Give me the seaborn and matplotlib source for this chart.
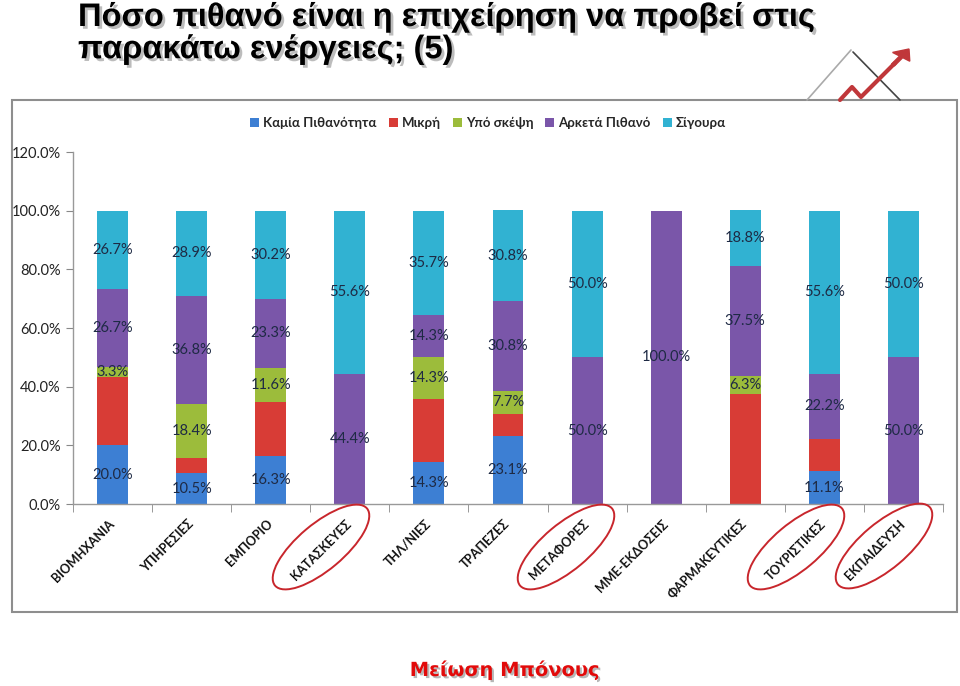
import matplotlib
matplotlib.use("Agg")
import matplotlib.pyplot as plt
import matplotlib.patheffects as pe
from matplotlib.patches import Rectangle, Ellipse, Patch, FancyArrow
from matplotlib.transforms import IdentityTransform
from matplotlib.lines import Line2D
import seaborn as sns
import numpy as np

categories = ["ΒΙΟΜΗΧΑΝΙΑ", "ΥΠΗΡΕΣΙΕΣ", "ΕΜΠΟΡΙΟ", "ΚΑΤΑΣΚΕΥΕΣ", "ΤΗΛ/ΝΙΕΣ",
              "ΤΡΑΠΕΖΕΣ", "ΜΕΤΑΦΟΡΕΣ", "ΜΜΕ-ΕΚΔΟΣΕΙΣ", "ΦΑΡΜΑΚΕΥΤΙΚΕΣ",
              "ΤΟΥΡΙΣΤΙΚΕΣ", "ΕΚΠΑΙΔΕΥΣΗ"]
series_names = ["Καμία Πιθανότητα", "Μικρή", "Υπό σκέψη", "Αρκετά Πιθανό", "Σίγουρα"]
kamia = [20.0, 10.5, 16.3, 0.0, 14.3, 23.1, 0.0, 0.0, 0.0, 11.1, 0.0]
mikri = [23.3, 5.3, 18.6, 0.0, 21.4, 7.7, 0.0, 0.0, 37.5, 11.1, 0.0]
ypo_skepsi = [3.3, 18.4, 11.6, 0.0, 14.3, 7.7, 0.0, 0.0, 6.3, 0.0, 0.0]
arketa = [26.7, 36.8, 23.3, 44.4, 14.3, 30.8, 50.0, 100.0, 37.5, 22.2, 50.0]
sigoura = [26.7, 28.9, 30.2, 55.6, 35.7, 30.8, 50.0, 0.0, 18.8, 55.6, 50.0]
show_labels = [True, False, True, True, True]
highlighted = ["ΚΑΤΑΣΚΕΥΕΣ", "ΜΕΤΑΦΟΡΕΣ", "ΤΟΥΡΙΣΤΙΚΕΣ", "ΕΚΠΑΙΔΕΥΣΗ"]
yticks = [0, 20, 40, 60, 80, 100, 120]

colors = ["#3D7FD3", "#D83C36", "#9CBC3B", "#7A56A9", "#31B2D2"]

sns.set_style("white")
plt.rcParams["font.family"] = ["Lato", "DejaVu Sans"]

W, H = 960, 686
fig = plt.figure(figsize=(W / 100, H / 100), dpi=100)
ax = fig.add_axes([73 / W, 1 - 504 / H, (943 - 73) / W, (504 - 152) / H])

series = [kamia, mikri, ypo_skepsi, arketa, sigoura]
cum = np.cumsum(np.array(series), axis=0)

# draw from top layer down so lower layers overlay
for i in range(len(series) - 1, -1, -1):
    sns.barplot(x=categories, y=cum[i], color=colors[i], width=0.39,
                saturation=1, errorbar=None, ax=ax, linewidth=0)

# data labels
for i, vals in enumerate(series):
    if not show_labels[i]:
        continue
    for j, v in enumerate(vals):
        if v <= 0:
            continue
        yc = cum[i][j] - v / 2
        ax.text(j, yc, f"{v:.1f}%", ha="center", va="center",
                fontsize=10.5, color="#1E2A44")

ax.set_xlim(-0.5, len(categories) - 0.5)
ax.set_ylim(0, 120)
ax.set_yticks(yticks)
ax.set_yticklabels([f"{t:.1f}%" for t in yticks], fontsize=10.5, color="#222222")
ax.tick_params(axis="y", length=5, color="#888888", direction="out", left=True, pad=4)
ax.tick_params(axis="x", which="major", length=0, pad=13)
ax.set_xticks(np.arange(-0.5, len(categories), 1), minor=True)
ax.tick_params(axis="x", which="minor", length=6, color="#888888", direction="out", bottom=True)
ax.set_xticks(range(len(categories)))
ax.set_xticklabels(categories, rotation=45, ha="right", rotation_mode="anchor",
                   fontsize=9, fontweight="bold", color="#111111")
for lab in ax.get_xticklabels():
    lab.set_va("center")
for s in ["top", "right"]:
    ax.spines[s].set_visible(False)
for s in ["left", "bottom"]:
    ax.spines[s].set_color("#999999")
    ax.spines[s].set_linewidth(1)
ax.set_xlabel("")
ax.set_ylabel("")

# legend
handles = [Patch(facecolor=c, edgecolor="none") for c in colors]
fig.legend(handles, series_names, loc="center", ncol=5,
           bbox_to_anchor=(488 / W, 1 - 123 / H), frameon=False,
           handlelength=0.7, handleheight=0.7, handletextpad=0.3,
           columnspacing=0.9, prop={"family": ["Lato", "DejaVu Sans"],
                                    "weight": "bold", "size": 9.5})

# chart frame
fig.patches.append(Rectangle((12 / W, 1 - 612 / H), (957 - 12) / W, (612 - 100) / H,
                             transform=fig.transFigure, fill=False,
                             edgecolor="#8E8E8E", linewidth=1.5, zorder=0))

# red highlight ellipses around selected categories
ell_pos = {"ΚΑΤΑΣΚΕΥΕΣ": (321, 547), "ΜΕΤΑΦΟΡΕΣ": (566, 547),
           "ΤΟΥΡΙΣΤΙΚΕΣ": (796, 547), "ΕΚΠΑΙΔΕΥΣΗ": (884, 546)}
for name in highlighted:
    cx, cy = ell_pos[name]
    e = Ellipse((cx, H - cy), 120, 46, angle=40, fill=False,
                edgecolor="#C8262C", linewidth=1.4, transform=IdentityTransform())
    fig.patches.append(e)

# decorative logo lines (top right)
def fl(xs, ys, **kw):
    fig.lines.append(Line2D([x / W for x in xs], [1 - y / H for y in ys],
                            transform=fig.transFigure, **kw))
fl([807, 851], [100, 50], color="#AAAAAA", linewidth=1.2)
fl([853, 900], [52, 100], color="#444444", linewidth=1.2)
fl([840, 852, 861, 895], [100, 87, 97, 63], color="#C0373A", linewidth=3)
fig.add_artist(FancyArrow(893 / W, 1 - 65 / H, 16 / W, 16 / H,
               width=0.004, head_width=0.022, head_length=0.014,
               color="#C0373A", transform=fig.transFigure, length_includes_head=True))

# title
fig.text(78 / W, 1 - 2 / H, "Πόσο πιθανό είναι η επιχείρηση να προβεί στις\nπαρακάτω ενέργειες; (5)",
         ha="left", va="top", fontsize=23.5, fontweight="bold", color="black",
         family=["Liberation Sans", "DejaVu Sans"],
         linespacing=1.05,
         path_effects=[pe.withSimplePatchShadow(offset=(2, -2),
                                                shadow_rgbFace="#A0A0A0", alpha=0.7)])

# bottom note
fig.text(505 / W, 1 - 670 / H, "Μείωση Μπόνους", ha="center", va="center",
         fontsize=14, fontweight="bold", color="#E20A0A",
         family=["DejaVu Sans"],
         path_effects=[pe.withSimplePatchShadow(offset=(1.5, -1.5),
                                                shadow_rgbFace="#888888", alpha=0.6)])

fig.savefig("out.png", dpi=100)
